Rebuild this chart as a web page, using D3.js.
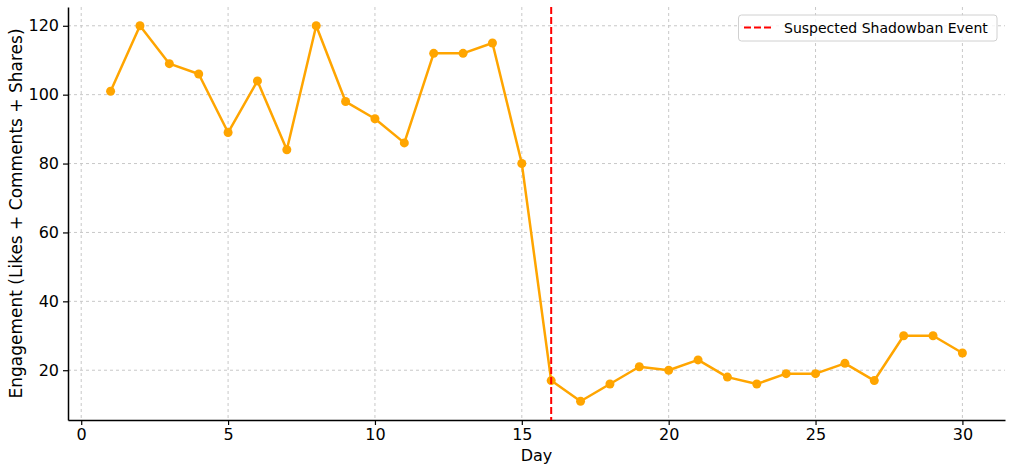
<!DOCTYPE html>
<html><head><meta charset="utf-8">
<script src="https://cdn.jsdelivr.net/npm/d3@7"></script>
<style>body{margin:0;background:#fff;} text{font-family:"DejaVu Sans",sans-serif;}</style>
</head><body><svg id="c" width="1013" height="469"></svg>
<script>
const days = d3.range(1, 31);
const engagement = [101,120,109,106,89,104,84,120,98,93,86,112,112,115,80,17,11,16,21,20,23,18,16,19,19,22,17,30,30,25];
const xTicks = [0,5,10,15,20,25,30];
const yTicks = [20,40,60,80,100,120];
const eventDay = 16;
const legendLabel = "Suspected Shadowban Event";

const svg = d3.select("#c");
const L = 68, R = 1005, T = 7, B = 420;
const x = d3.scaleLinear().domain([-0.45, 31.45]).range([L, R]);
const y = d3.scaleLinear().domain([5.55, 125.45]).range([B, T]);

// grid
svg.append("g").selectAll("line").data(xTicks).join("line")
  .attr("x1", d => x(d)).attr("x2", d => x(d)).attr("y1", T).attr("y2", B)
  .attr("stroke", "#c8c8c8").attr("stroke-width", 1).attr("stroke-dasharray", "3,3");
svg.append("g").selectAll("line").data(yTicks).join("line")
  .attr("y1", d => y(d)).attr("y2", d => y(d)).attr("x1", L).attr("x2", R)
  .attr("stroke", "#c8c8c8").attr("stroke-width", 1).attr("stroke-dasharray", "3,3");

// axes
const xAxis = svg.append("g").attr("transform", `translate(0,${B})`)
  .call(d3.axisBottom(x).tickValues(xTicks).tickSize(5).tickPadding(4).tickSizeOuter(0));
const yAxis = svg.append("g").attr("transform", `translate(${L},0)`)
  .call(d3.axisLeft(y).tickValues(yTicks).tickSize(5).tickPadding(4).tickSizeOuter(0));
[xAxis, yAxis].forEach(g => {
  g.selectAll("text").attr("font-size", 16).attr("fill", "#000").attr("font-family", "DejaVu Sans");
  g.select(".domain").attr("stroke", "#000").attr("stroke-width", 1.5);
  g.selectAll(".tick line").attr("stroke", "#000").attr("stroke-width", 1.2);
});

// line
svg.append("path").datum(days.map((d, i) => [d, engagement[i]]))
  .attr("fill", "none").attr("stroke", "#FFA500").attr("stroke-width", 2.5)
  .attr("stroke-linejoin", "round")
  .attr("d", d3.line().x(d => x(d[0])).y(d => y(d[1])));
svg.append("g").selectAll("circle").data(days).join("circle")
  .attr("cx", d => x(d)).attr("cy", (d, i) => y(engagement[i])).attr("r", 4.5)
  .attr("fill", "#FFA500");

// event line
svg.append("line").attr("x1", x(eventDay)).attr("x2", x(eventDay)).attr("y1", T).attr("y2", B)
  .attr("stroke", "red").attr("stroke-width", 2).attr("stroke-dasharray", "7,3");

// labels
svg.append("text").attr("x", (L + R) / 2).attr("y", 461).attr("text-anchor", "middle")
  .attr("font-size", 16).text("Day");
svg.append("text").attr("transform", `translate(21.5,${(T + B) / 2}) rotate(-90)`)
  .attr("text-anchor", "middle").attr("font-size", 17).text("Engagement (Likes + Comments + Shares)");

// legend
const lg = svg.append("g");
lg.append("rect").attr("x", 738.5).attr("y", 15).attr("width", 258.5).attr("height", 26).attr("rx", 3)
  .attr("fill", "#fff").attr("fill-opacity", 0.8).attr("stroke", "#d0d0d0").attr("stroke-width", 1);
lg.append("line").attr("x1", 744).attr("x2", 773).attr("y1", 27.5).attr("y2", 27.5)
  .attr("stroke", "red").attr("stroke-width", 2).attr("stroke-dasharray", "7,3");
lg.append("text").attr("x", 784).attr("y", 33).attr("font-size", 14).text(legendLabel);
</script></body></html>
